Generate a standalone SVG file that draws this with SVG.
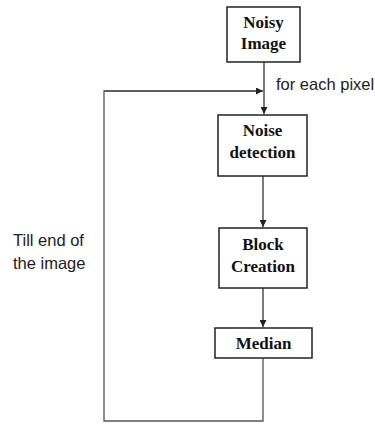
<svg xmlns="http://www.w3.org/2000/svg" width="375" height="425" viewBox="0 0 375 425">
  <defs>
    <marker id="arrow" viewBox="0 0 10 10" refX="10" refY="5" markerWidth="7" markerHeight="7" markerUnits="userSpaceOnUse" orient="auto">
      <path d="M0,0 L10,5 L0,10 z" fill="#222"/>
    </marker>
    <style>
      .box { fill: #fff; stroke: #222; stroke-width: 1.5; }
      .lbl { font-family: "Liberation Serif", "Times New Roman", serif; font-weight: bold; font-size: 17px; fill: #111; text-anchor: middle; }
      .note { font-family: "Liberation Sans", Arial, sans-serif; font-size: 16.5px; fill: #222; }
      .wire { fill: none; stroke: #333; stroke-width: 1.3; }
      .arr { marker-end: url(#arrow); }
    </style>
  </defs>
  <rect width="375" height="425" fill="#fff"/>

  <!-- connectors -->
  <g id="connectors">
    <line class="wire arr" x1="264" y1="62" x2="264" y2="114"/>
    <path class="wire" d="M263,358 V421 H104 V91 H262" style="stroke:#555"/>
    <line class="wire arr" x1="104" y1="91" x2="263" y2="91" style="stroke:#555"/>
    <line class="wire arr" x1="263" y1="176" x2="263" y2="227"/>
    <line class="wire arr" x1="263" y1="288" x2="263" y2="327"/>
  </g>

  <!-- nodes -->
  <g id="noisy-image">
    <rect class="box" x="227" y="7" width="73" height="55"/>
    <text class="lbl" x="263.5" y="28">Noisy</text>
    <text class="lbl" x="263.5" y="49">Image</text>
  </g>
  <g id="noise-detection">
    <rect class="box" x="218" y="115" width="89" height="61"/>
    <text class="lbl" x="262.5" y="136">Noise</text>
    <text class="lbl" x="262.5" y="158">detection</text>
  </g>
  <g id="block-creation">
    <rect class="box" x="219" y="228" width="88" height="60"/>
    <text class="lbl" x="263" y="250">Block</text>
    <text class="lbl" x="263" y="272">Creation</text>
  </g>
  <g id="median">
    <rect class="box" x="215" y="328" width="97" height="30"/>
    <text class="lbl" x="263.5" y="349">Median</text>
  </g>

  <!-- labels -->
  <g id="labels">
    <text class="note" x="276" y="90">for each pixel</text>
    <text class="note" x="13" y="246">Till end of</text>
    <text class="note" x="13" y="269">the image</text>
  </g>
</svg>
